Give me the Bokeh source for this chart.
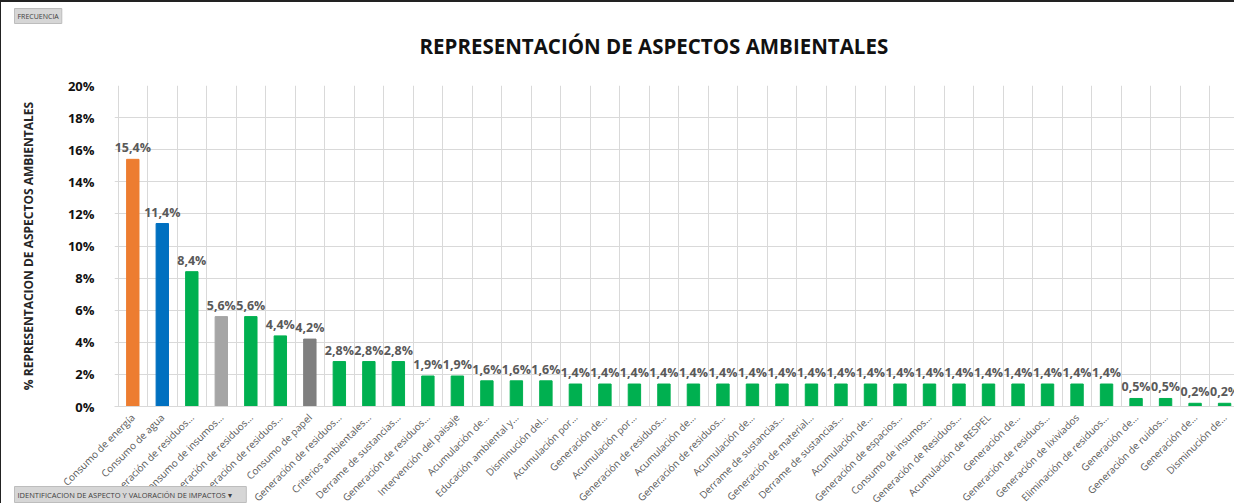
from bokeh.plotting import figure
from bokeh.models import (ColumnDataSource, Range1d, FixedTicker, NumeralTickFormatter,
                          LabelSet, Title)
from bokeh.core.properties import value
from bokeh.embed import file_html
from bokeh.resources import INLINE

# ---------------- data ----------------
categorias = [
    "Consumo de energía", "Consumo de agua", "Generación de residuos…", "Consumo de insumos…",
    "Generación de residuos…", "Generación de residuos…", "Consumo de papel",
    "Generación de residuos…", "Criterios ambientales…", "Derrame de sustancias…",
    "Generación de residuos…", "Intervención del paisaje", "Acumulación de…",
    "Educación ambiental y…", "Disminución del…", "Acumulación por…", "Generación de…",
    "Acumulación por…", "Generación de residuos…", "Acumulación de…",
    "Generación de residuos…", "Acumulación de…", "Derrame de sustancias…",
    "Generación de material…", "Derrame de sustancias…", "Acumulación de…",
    "Generación de espacios…", "Consumo de insumos…", "Generación de Residuos…",
    "Acumulación de RESPEL", "Generación de…", "Generación de residuos…",
    "Generación de lixiviados", "Eliminación de residuos…", "Generación de…",
    "Generación de ruidos…", "Generación de…", "Disminución de…",
]
porcentajes = [
    15.4, 11.4, 8.4, 5.6, 5.6, 4.4, 4.2, 2.8, 2.8, 2.8,
    1.9, 1.9, 1.6, 1.6, 1.6, 1.4, 1.4, 1.4, 1.4, 1.4,
    1.4, 1.4, 1.4, 1.4, 1.4, 1.4, 1.4, 1.4, 1.4, 1.4,
    1.4, 1.4, 1.4, 1.4, 0.5, 0.5, 0.2, 0.2,
]
y_ticks = [0, 0.02, 0.04, 0.06, 0.08, 0.10, 0.12, 0.14, 0.16, 0.18, 0.20]

# ---------------- styles ----------------
GREEN = "#00B050"
special = {0: "#ED7D31", 1: "#0070C0", 3: "#A5A5A5", 6: "#7F7F7F"}
n = len(categorias)
xs = list(range(n))
colors = [special.get(i, GREEN) for i in xs]
frac = [v / 100 for v in porcentajes]
labels = [f"{v:.1f}".replace(".", ",") + "%" for v in porcentajes]

src = ColumnDataSource(dict(x=xs, y=frac, color=colors, lab=labels))

FONT = "Open Sans"

p = figure(width=1234, height=517, output_backend="svg", toolbar_location=None,
           x_range=Range1d(-0.62, 37.37), y_range=Range1d(0, 0.20),
           min_border_left=113, min_border_right=0, min_border_top=83,
           min_border_bottom=113)
p.outline_line_color = None
p.background_fill_color = "white"
p.border_fill_color = "white"

p.vbar(x="x", top="y", width=0.42, color="color", source=src)

p.add_layout(LabelSet(x="x", y="y", text="lab", source=src, text_align="center",
                      text_baseline="bottom", y_offset=3, text_font=value(FONT),
                      text_font_style="bold", text_font_size="12.5px",
                      text_color="#595959"))

# axes
p.yaxis.ticker = FixedTicker(ticks=y_ticks)
p.yaxis.formatter = NumeralTickFormatter(format="0%")
p.yaxis.axis_line_color = None
p.yaxis.major_tick_line_color = None
p.yaxis.minor_tick_line_color = None
p.yaxis.major_label_text_font = FONT
p.yaxis.major_label_text_font_style = "bold"
p.yaxis.major_label_text_font_size = "13px"
p.yaxis.major_label_text_color = "#111111"
p.yaxis.major_label_standoff = 14
p.yaxis.axis_label = "% REPRESENTACION DE ASPECTOS AMBIENTALES"
p.yaxis.axis_label_text_font = FONT
p.yaxis.axis_label_text_font_style = "bold"
p.yaxis.axis_label_text_font_size = "12px"
p.yaxis.axis_label_text_color = "#262626"
p.yaxis.axis_label_standoff = 28

p.xaxis.ticker = FixedTicker(ticks=xs)
p.xaxis.major_label_overrides = {i: c for i, c in zip(xs, categorias)}
p.xaxis.major_label_orientation = 0.785398
p.xaxis.axis_line_color = "#D9D9D9"
p.xaxis.major_tick_line_color = None
p.xaxis.minor_tick_line_color = None
p.xaxis.major_label_text_font = FONT
p.xaxis.major_label_text_font_size = "10px"
p.xaxis.major_label_text_color = "#595959"
p.xaxis.major_label_standoff = 3

p.xgrid.ticker = FixedTicker(ticks=[i - 0.5 for i in range(n + 1)])
p.xgrid.grid_line_color = "#D9D9D9"
p.ygrid.grid_line_color = "#D9D9D9"

# titles / pivot buttons
main_title = Title(text="REPRESENTACIÓN DE ASPECTOS AMBIENTALES", align="left", offset=305,
                   text_font=FONT, text_font_style="bold", text_font_size="20.5px",
                   text_color="#111111", standoff=51)
freq = Title(text="FRECUENCIA", align="left", offset=-100, text_font=FONT,
             text_font_size="7px", text_font_style="normal", text_color="#404040",
             background_fill_color="#D6D6D6", border_line_color="#BDBDBD",
             vertical_align="bottom", padding=3, standoff=-38)
p.title = None
p.above = [main_title, freq]

bottom_btn = Title(text="IDENTIFICACION DE ASPECTO Y VALORACIÓN DE IMPACTOS       ▾",
                   align="left", offset=-100, text_font=FONT, text_font_size="7.5px",
                   text_font_style="normal", text_color="#404040",
                   background_fill_color="#D6D6D6", border_line_color="#BDBDBD",
                   vertical_align="top", padding=3, standoff=-54)
p.add_layout(bottom_btn, "below")

p.styles = {"border-top": "2px solid #222", "border-left": "1.5px solid #222"}

html = file_html(p, INLINE).replace("<body>", '<body style="overflow:hidden">')
open("out.html", "w").write(html)
